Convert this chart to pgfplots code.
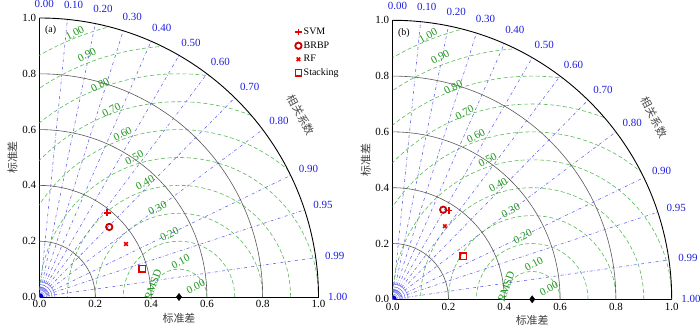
\documentclass[border=0pt]{standalone}
\usepackage{fontspec}
\setmainfont{Liberation Serif}
\newfontfamily\cjk{Noto Sans CJK SC}
\usepackage{pgfplots}
\pgfplotsset{compat=1.18}

\definecolor{rmsdgreen}{RGB}{90,185,90}
\definecolor{rmsdtext}{RGB}{30,150,30}
\definecolor{corrblue}{RGB}{105,105,235}
\definecolor{corrtext}{RGB}{30,30,225}
\definecolor{mkred}{RGB}{235,0,0}

% grid of the Taylor diagram, shared by both panels
\newcommand{\taylorgrid}{%
  % RMSD circles round the reference point
  \begin{scope}
    \clip (axis cs:0,0) -- (axis cs:1,0) arc[start angle=0,end angle=90,radius=279bp] -- cycle;
    \pgfplotsinvokeforeach{0.1,0.2,0.3,0.4,0.5,0.6,0.7,0.8,0.9,1.0}{
      \draw[rmsdgreen, dash pattern=on 4pt off 2.5pt, line width=0.6pt] (axis cs:0.5,0) circle[radius=##1*279bp];
    }
  \end{scope}
  % correlation rays
  \pgfplotsinvokeforeach{0.10,0.20,0.30,0.40,0.50,0.60,0.70,0.80,0.90,0.95,0.99}{
    \draw[corrblue, dash dot, line width=0.6pt] (axis cs:0,0) -- (axis cs:##1,{sqrt(1-##1*##1)});
  }
  \pgfplotsinvokeforeach{0.00,0.10,0.20,0.30,0.40,0.50,0.60,0.70,0.80,0.90,0.95,0.99,1.00}{
    \node[corrtext, font=\fontsize{11}{12}\selectfont, inner sep=0pt]
      at (axis cs:{1.052*##1+0.017},{1.052*sqrt(1-##1*##1)}) {##1};
  }
  % little arcs near the origin
  \pgfplotsinvokeforeach{0.015,0.025,0.035,0.045,0.055}{
    \draw[corrblue, line width=0.4pt] (axis cs:##1,0) arc[start angle=0,end angle=90,radius=##1*279bp];
  }
  \fill[blue!80!black] (axis cs:0,0) -- (axis cs:0.014,0) arc[start angle=0,end angle=90,radius=0.014*279bp] -- cycle;
  % standard deviation arcs
  \pgfplotsinvokeforeach{0.2,0.4,0.6,0.8}{
    \draw[black!65, line width=0.6pt] (axis cs:##1,0) arc[start angle=0,end angle=90,radius=##1*279bp];
  }
  \draw[black, line width=0.9pt] (axis cs:1,0) arc[start angle=0,end angle=90,radius=279bp];
  % RMSD labels
  \begin{scope}[every node/.style={rmsdtext, rotate=28, inner sep=0pt, font=\fontsize{11}{12}\selectfont}]
    \node at (axis cs:0.560,0.038) {0.00};
    \node at (axis cs:0.506,0.127) {0.10};
    \node at (axis cs:0.466,0.225) {0.20};
    \node at (axis cs:0.423,0.318) {0.30};
    \node at (axis cs:0.378,0.41) {0.40};
    \node at (axis cs:0.340,0.50) {0.50};
    \node at (axis cs:0.298,0.585) {0.60};
    \node at (axis cs:0.258,0.67) {0.70};
    \node at (axis cs:0.217,0.76) {0.80};
    \node at (axis cs:0.170,0.868) {0.90};
    \node at (axis cs:0.127,0.946) {1.00};
  \end{scope}
  \node[rmsdtext, rotate=70, inner sep=0pt, font=\fontsize{11}{12}\selectfont] at (axis cs:0.407,0.045) {RMSD};
  \node[black!70, rotate=-62, inner sep=0pt, font=\cjk\fontsize{11}{12}\selectfont] at (axis cs:0.937,0.652) {相关系数};
}

\pgfplotsset{
  taylor/.style={
    x=279bp, y=279bp,
    xmin=0, xmax=1, ymin=0, ymax=1,
    axis lines=left,
    axis line style={-, black, line width=0.7pt},
    clip=false,
    xtick={0,0.2,0.4,0.6,0.8,1.0},
    ytick={0,0.2,0.4,0.6,0.8,1.0},
    major tick length=0pt,
    tick label style={font=\fontsize{11}{12}\selectfont,
      /pgf/number format/.cd, fixed, fixed zerofill, precision=1, assume math mode=true},
    xlabel={\cjk 标准差}, ylabel={\cjk 标准差},
    label style={font=\fontsize{11}{12}\selectfont, text=black!75},
    xlabel style={yshift=2bp},
    ylabel style={yshift=-2bp},
    anchor=south west,
  }
}

\begin{document}
\begin{tikzpicture}
\useasboundingbox (0,0) rectangle (700bp,332bp);

% panel (a)
\begin{axis}[taylor, at={(39.5bp,35bp)},
  legend style={at={(0.912,0.975)}, anchor=north west, draw=none, fill=none,
    font=\fontsize{10}{11}\selectfont, row sep=1.5bp, inner sep=1pt},
  legend cell align=left]
  \taylorgrid
  \node[font=\fontsize{10}{11}\selectfont, inner sep=0pt] at (axis cs:0.04,0.955) {(a)};
  \addplot[only marks, mark=+, mark size=3.3, line width=1.8pt, color=mkred] coordinates {(0.243,0.302)};
  \addlegendentry{SVM}
  \addplot[only marks, mark=o, mark size=3.2, line width=1.8pt, color=mkred!85!black] coordinates {(0.25,0.251)};
  \addlegendentry{BRBP}
  \addplot[only marks, mark=x, mark size=2.5, line width=1.6pt, color=mkred] coordinates {(0.31,0.19)};
  \addlegendentry{RF}
  \addplot[only marks, mark=square, mark size=3.2, line width=1.4pt, color=mkred] coordinates {(0.368,0.101)};
  \addlegendentry{Stacking}
  \addplot[only marks, mark=diamond*, mark size=3.6, color=black, forget plot] coordinates {(0.5,0)};
\end{axis}

% panel (b)
\begin{axis}[taylor, at={(392.7bp,32.7bp)}]
  \taylorgrid
  \node[font=\fontsize{10}{11}\selectfont, inner sep=0pt] at (axis cs:0.04,0.955) {(b)};
  \addplot[only marks, mark=+, mark size=3.3, line width=1.8pt, color=mkred] coordinates {(0.201,0.318)};
  \addplot[only marks, mark=o, mark size=3.2, line width=1.8pt, color=mkred!85!black] coordinates {(0.181,0.321)};
  \addplot[only marks, mark=x, mark size=2.5, line width=1.6pt, color=mkred] coordinates {(0.187,0.262)};
  \addplot[only marks, mark=square, mark size=3.2, line width=1.4pt, color=mkred] coordinates {(0.252,0.155)};
  \addplot[only marks, mark=diamond*, mark size=3.6, color=black] coordinates {(0.5,0)};
\end{axis}
\end{tikzpicture}
\end{document}
